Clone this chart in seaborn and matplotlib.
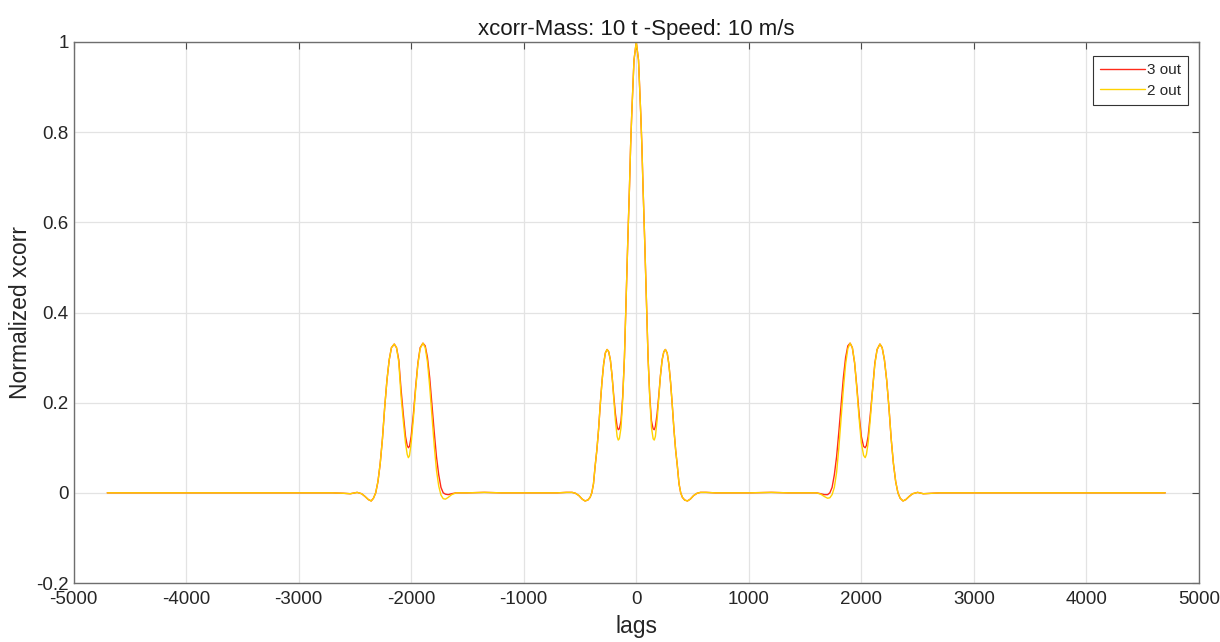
import numpy as np
import pandas as pd
import matplotlib
matplotlib.use("Agg")
import matplotlib.pyplot as plt
import seaborn as sns
from matplotlib.ticker import FuncFormatter

# ---------------- data ----------------
lags = [
    -4700, -3000, -2700, -2600, -2540, -2480, -2440, -2410, -2380, -2355, -2335,
    -2315, -2295, -2275, -2255, -2235, -2215, -2195, -2175, -2150, -2130, -2110,
    -2090, -2070, -2050, -2035, -2025, -2015, -2000, -1980, -1960, -1940, -1920,
    -1895, -1875, -1855, -1835, -1815, -1795, -1775, -1755, -1735, -1715, -1695,
    -1670, -1640, -1600, -1500, -1350, -1200, -1000, -800,
    -700, -620, -570, -540, -510, -480, -455, -430, -410, -395, -380, -365, -350,
    -335, -320, -305, -290, -275, -259, -245, -230, -215, -200, -185, -170, -160,
    -150, -135, -120, -105, -90, -75, -60, -50, -40, -20, 0,
    20, 40, 50, 60, 75, 90, 105, 120, 135, 150, 160, 170, 185, 200, 215, 230, 245,
    259, 275, 290, 305, 320, 335, 350, 365, 380, 395, 410, 430, 455, 480, 510, 540,
    570, 620, 700,
    800, 1000, 1200, 1350, 1500, 1600, 1640, 1670, 1700, 1720, 1740, 1760, 1780,
    1800, 1820, 1840, 1860, 1880, 1900, 1920, 1940, 1960, 1980, 2000, 2020, 2034,
    2045, 2060, 2080, 2100, 2120, 2140, 2165, 2185, 2205, 2225, 2245, 2265, 2285,
    2305, 2325, 2345, 2370, 2395, 2425, 2455, 2500, 2550, 2620, 2700, 3000, 4700,
]

out2 = [  # yellow "2 out"
    0.0, 0.0, 0.0, -0.001, -0.002, 0.001, -0.002, -0.008, -0.015, -0.018, -0.012,
    0.0, 0.025, 0.065, 0.12, 0.19, 0.25, 0.295, 0.322, 0.330, 0.322, 0.29,
    0.215, 0.16, 0.11, 0.085, 0.078, 0.082, 0.11, 0.165, 0.23, 0.285, 0.32,
    0.332, 0.322, 0.29, 0.235, 0.17, 0.105, 0.05, 0.015, -0.005, -0.013, -0.014,
    -0.010, -0.004, 0.0, 0.0, 0.001, 0.0, 0.0, 0.0,
    0.0, 0.001, 0.001, -0.001, -0.006, -0.014, -0.018, -0.016, -0.010, 0.0, 0.02, 0.06, 0.095,
    0.14, 0.195, 0.245, 0.285, 0.31, 0.318, 0.313, 0.295, 0.26, 0.21, 0.16, 0.125, 0.117,
    0.12, 0.145, 0.21, 0.30, 0.43, 0.56, 0.68, 0.77, 0.84, 0.96, 1.0,
    0.96, 0.84, 0.77, 0.68, 0.56, 0.43, 0.30, 0.21, 0.145, 0.12, 0.117, 0.125, 0.16, 0.21, 0.26, 0.295, 0.313,
    0.318, 0.31, 0.285, 0.245, 0.195, 0.14, 0.095, 0.06, 0.02, 0.0, -0.010, -0.016, -0.018, -0.014, -0.006, -0.001,
    0.001, 0.001, 0.0,
    0.0, 0.0, 0.001, 0.0, 0.0, 0.0, -0.003, -0.008, -0.012, -0.011, -0.004, 0.012, 0.045,
    0.10, 0.165, 0.23, 0.285, 0.32, 0.332, 0.322, 0.29, 0.23, 0.165, 0.11, 0.083, 0.078,
    0.085, 0.11, 0.165, 0.23, 0.285, 0.318, 0.330, 0.322, 0.295, 0.25, 0.19, 0.12, 0.065,
    0.025, 0.0, -0.012, -0.018, -0.015, -0.008, -0.002, 0.001, -0.002, -0.001, 0.0, 0.0, 0.0,
]

out3 = [  # red "3 out"
    0.0, 0.0, 0.0, -0.001, -0.002, 0.001, -0.002, -0.008, -0.015, -0.018, -0.012,
    0.0, 0.025, 0.065, 0.12, 0.19, 0.25, 0.295, 0.322, 0.330, 0.322, 0.295,
    0.23, 0.175, 0.125, 0.105, 0.100, 0.103, 0.125, 0.175, 0.235, 0.288, 0.322,
    0.332, 0.326, 0.30, 0.255, 0.195, 0.135, 0.08, 0.04, 0.012, 0.0, -0.003,
    -0.004, -0.002, 0.0, 0.0, 0.001, 0.0, 0.0, 0.0,
    0.0, 0.001, 0.001, -0.001, -0.006, -0.014, -0.018, -0.016, -0.010, 0.0, 0.02, 0.06, 0.095,
    0.14, 0.195, 0.245, 0.285, 0.31, 0.318, 0.313, 0.295, 0.26, 0.215, 0.175, 0.147, 0.14,
    0.142, 0.16, 0.215, 0.30, 0.43, 0.56, 0.68, 0.77, 0.84, 0.96, 1.0,
    0.96, 0.84, 0.77, 0.68, 0.56, 0.43, 0.30, 0.215, 0.16, 0.142, 0.14, 0.147, 0.175, 0.215, 0.26, 0.295, 0.313,
    0.318, 0.31, 0.285, 0.245, 0.195, 0.14, 0.095, 0.06, 0.02, 0.0, -0.010, -0.016, -0.018, -0.014, -0.006, -0.001,
    0.001, 0.001, 0.0,
    0.0, 0.0, 0.001, 0.0, 0.0, 0.0, -0.002, -0.004, -0.004, 0.0, 0.012, 0.04, 0.08,
    0.135, 0.195, 0.255, 0.30, 0.326, 0.332, 0.322, 0.288, 0.235, 0.175, 0.125, 0.103, 0.100,
    0.105, 0.125, 0.175, 0.23, 0.288, 0.318, 0.330, 0.322, 0.295, 0.25, 0.19, 0.12, 0.065,
    0.025, 0.0, -0.012, -0.018, -0.015, -0.008, -0.002, 0.001, -0.002, -0.001, 0.0, 0.0, 0.0,
]

series_names = ["3 out", "2 out"]
series_colors = ["#ff2a1a", "#ffd200"]
x_ticks = [-5000, -4000, -3000, -2000, -1000, 0, 1000, 2000, 3000, 4000, 5000]
y_ticks = [-0.2, 0, 0.2, 0.4, 0.6, 0.8, 1]
title_text = "xcorr-Mass: 10 t -Speed: 10 m/s"
xlabel_text = "lags"
ylabel_text = "Normalized xcorr"

# ---------------- plotting ----------------
sns.set_style("white")
plt.rcParams["font.family"] = ["Liberation Sans", "DejaVu Sans"]

df = pd.DataFrame({
    "lag": lags * 2,
    "value": out3 + out2,
    "series": [series_names[0]] * len(lags) + [series_names[1]] * len(lags),
})

fig = plt.figure(figsize=(12.2, 6.42), dpi=100)
ax = fig.add_axes([73.5 / 1220, 1 - 583 / 642, (1199 - 73.5) / 1220, (583 - 42) / 642])

sns.lineplot(data=df, x="lag", y="value", hue="series", hue_order=series_names,
             palette=series_colors, linewidth=1.0, ax=ax, sort=False,
             estimator=None)

ax.set_xlim(-5000, 5000)
ax.set_ylim(-0.2, 1)
ax.set_xticks(x_ticks)
ax.set_yticks(y_ticks)
ax.yaxis.set_major_formatter(FuncFormatter(lambda v, p: ("%g" % round(v, 6))))
ax.xaxis.set_major_formatter(FuncFormatter(lambda v, p: ("%g" % v)))

ax.grid(True, color="#e3e3e3", linewidth=0.9)
ax.set_axisbelow(True)
for s in ax.spines.values():
    s.set_color("#6e6e6e")
    s.set_linewidth(1.0)
ax.tick_params(axis="both", direction="in", length=5, width=0.8, color="#4a4a4a",
               labelsize=13.5, labelcolor="#262626", top=True, right=True)
ax.tick_params(axis="x", pad=6)
ax.tick_params(axis="y", pad=3.5)

ax.set_title(title_text, fontsize=16, color="#1a1a1a", pad=5)
ax.set_xlabel(xlabel_text, fontsize=16.5, color="#262626", labelpad=5)
ax.set_ylabel(ylabel_text, fontsize=16.5, color="#262626", labelpad=3)

leg = ax.legend(loc="upper right", fontsize=11, frameon=True, fancybox=False,
                edgecolor="#333333", framealpha=1, borderpad=0.45,
                handlelength=2.9, handletextpad=0.15, labelspacing=0.45,
                borderaxespad=0.0, bbox_to_anchor=(0.990, 0.974))
leg.get_frame().set_linewidth(0.8)

fig.savefig("out.png", dpi=100)
